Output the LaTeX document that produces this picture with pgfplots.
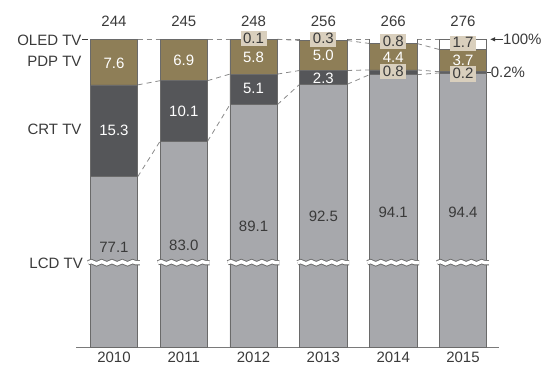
\documentclass[border=0pt]{standalone}
\usepackage{pgfplots}
\pgfplotsset{compat=1.18}
\usepackage{pgfplotstable}
\usepackage{fontspec}
\setmainfont{Liberation Sans}
\usetikzlibrary{decorations.pathmorphing, arrows.meta}

\definecolor{lcd}{HTML}{A7A8AC}
\definecolor{crt}{HTML}{555659}
\definecolor{pdp}{HTML}{8E7E57}
\definecolor{beige}{HTML}{D9CFBD}
\definecolor{edge}{HTML}{6A6A6A}
\definecolor{txt}{HTML}{3A3A3A}
\definecolor{dashc}{HTML}{8A8A8A}
\definecolor{axc}{HTML}{7A7A7A}

\pgfplotstableread{
x lcd crt pdp oled
0 77.1 15.3 7.6 0
1 83.0 10.1 6.9 0
2 89.1 5.1 5.8 0.1
3 92.5 2.3 5.0 0.3
4 94.1 0.8 4.4 0.8
5 94.4 0.2 3.7 1.7
}\share

\pgfplotsset{base/.style={scale only axis, width=423bp, height=308bp,
  xmin=-0.544, xmax=5.516, ymin=48.67, ymax=100, at={(0,0)}, anchor=south west}}
\tikzset{
  wl/.style={text=white, inner sep=0pt},
  dl/.style={text=txt, inner sep=0pt},
  bx/.style={fill=beige, text=txt, inner xsep=2.5bp, inner ysep=1.5bp, text height=10.7bp, text depth=1.5bp}}

\begin{document}
\begin{tikzpicture}[font=\fontsize{15bp}{18bp}\selectfont, text=txt]
% dashed connectors
\begin{axis}[base, hide axis, clip=false, unbounded coords=jump]
\addplot[dashc, line width=0.8bp, dash pattern=on 5bp off 4bp] coordinates {
(0.34,100) (0.66,100) (1,nan) (1.34,100) (1.66,100) (2,nan) (2.34,100) (2.66,100) (3,nan) (3.34,100) (3.66,100) (4,nan) (4.34,100) (4.66,100)};
\addplot[dashc, line width=0.8bp, dash pattern=on 5bp off 4bp] coordinates {
(2.34,100) (2.66,99.8) (3,nan) (3.34,99.8) (3.66,99.3) (4,nan) (4.34,99.3) (4.66,98.3)};
\addplot[dashc, line width=0.8bp, dash pattern=on 5bp off 4bp] coordinates {
(0.34,92.4) (0.66,93.1) (1,nan) (1.34,93.1) (1.66,94.2) (2,nan) (2.34,94.2) (2.66,94.8) (3,nan) (3.34,94.8) (3.66,94.9) (4,nan) (4.34,94.9) (4.66,94.6)};
\addplot[dashc, line width=0.8bp, dash pattern=on 5bp off 4bp] coordinates {
(0.34,77.1) (0.66,83.0) (1,nan) (1.34,83.0) (1.66,89.1) (2,nan) (2.34,89.1) (2.66,92.5) (3,nan) (3.34,92.5) (3.66,94.1) (4,nan) (4.34,94.1) (4.66,94.4)};
\end{axis}
% bars
\begin{axis}[base, ybar stacked, bar width=47.5bp,
  axis x line*=bottom, axis y line=none,
  xtick={0,...,5}, xticklabels={2010,2011,2012,2013,2014,2015},
  major tick length=0pt,
  x axis line style={draw=axc, line width=0.8bp},
  xticklabel style={inner sep=0pt, anchor=north, yshift=-4.4bp, text=txt, font=\fontsize{15bp}{18bp}\selectfont}]
\addplot[fill=lcd, draw=edge, line width=0.6bp] table[x=x, y=lcd] {\share};
\addplot[fill=crt, draw=edge, line width=0.6bp] table[x=x, y=crt] {\share};
\addplot[fill=pdp, draw=edge, line width=0.6bp] table[x=x, y=pdp] {\share};
\addplot[fill=white, draw=edge, line width=0.6bp] table[x=x, y=oled] {\share};
\end{axis}
% annotations
\begin{axis}[base, hide axis, clip=false]
\pgfplotsinvokeforeach{0,...,5}{
  \draw[edge, line width=5.2bp, decorate, decoration={snake, amplitude=1.1bp, segment length=10.3bp}] (axis cs:{#1-0.37},62.77) -- (axis cs:{#1+0.37},62.77);
  \draw[white, line width=3.4bp, decorate, decoration={snake, amplitude=1.1bp, segment length=10.3bp}] (axis cs:{#1-0.37},62.77) -- (axis cs:{#1+0.37},62.77);
}
% totals
\node[dl] at (axis cs:0,103.0) {244};
\node[dl] at (axis cs:1,103.0) {245};
\node[dl] at (axis cs:2,103.0) {248};
\node[dl] at (axis cs:3,103.0) {256};
\node[dl] at (axis cs:4,103.0) {266};
\node[dl] at (axis cs:5,103.0) {276};
% 2010
\node[wl] at (axis cs:0,96.0) {7.6};
\node[wl] at (axis cs:0,84.77) {15.3};
\node[dl] at (axis cs:0,65.38) {77.1};
% 2011
\node[wl] at (axis cs:1,96.55) {6.9};
\node[wl] at (axis cs:1,87.93) {10.1};
\node[dl] at (axis cs:1,65.72) {83.0};
% 2012
\node[wl] at (axis cs:2,97.0) {5.8};
\node[wl] at (axis cs:2,91.83) {5.1};
\node[dl] at (axis cs:2,68.88) {89.1};
\node[bx] at (axis cs:2,100.1) {0.1};
% 2013
\node[wl] at (axis cs:3,97.38) {5.0};
\node[wl] at (axis cs:3,93.5) {2.3};
\node[dl] at (axis cs:3,70.55) {92.5};
\node[bx] at (axis cs:3,100.0) {0.3};
% 2014
\node[wl] at (axis cs:4,97.0) {4.4};
\node[dl] at (axis cs:4,71.22) {94.1};
\node[bx] at (axis cs:4,99.6) {0.8};
\node[bx] at (axis cs:4,94.6) {0.8};
% 2015
\node[wl] at (axis cs:5,96.55) {3.7};
\node[dl] at (axis cs:5,71.22) {94.4};
\node[bx] at (axis cs:5,99.33) {1.7};
\node[bx] at (axis cs:5,94.22) {0.2};
% left labels
\node[dl, anchor=east] at (axis cs:-0.463,99.88) {OLED TV};
\draw[txt, line width=0.7bp] (axis cs:-0.456,100) -- (axis cs:-0.367,100);
\node[dl, anchor=east] at (axis cs:-0.463,96.38) {PDP TV};
\node[dl, anchor=east] at (axis cs:-0.463,85.05) {CRT TV};
\node[dl, anchor=east] at (axis cs:-0.444,62.72) {LCD TV};
% right annotations
\draw[txt, line width=0.8bp, -{Latex[length=5bp,width=4.5bp]}] (axis cs:5.573,100) -- (axis cs:5.387,100);
\node[dl, anchor=west] at (axis cs:5.573,100) {100\%};
\draw[txt, line width=0.7bp] (axis cs:5.344,94.45) -- (axis cs:5.397,94.45);
\node[dl, anchor=west] at (axis cs:5.397,94.45) {0.2\%};
\end{axis}
\pgfresetboundingbox
\path (-76bp,-28.7bp) rectangle (474bp,347.3bp);
\end{tikzpicture}
\end{document}
